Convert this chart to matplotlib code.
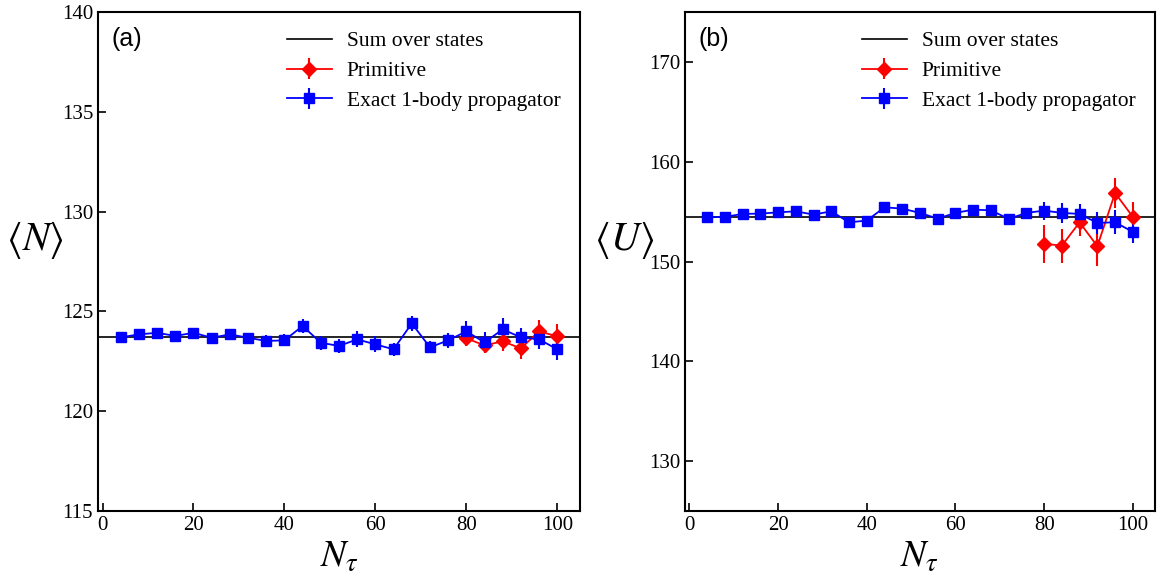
import numpy as np
import matplotlib
matplotlib.use("Agg")
import matplotlib.pyplot as plt

plt.rcParams["font.family"] = ["Liberation Serif", "DejaVu Serif"]
plt.rcParams["mathtext.fontset"] = "stix"

ntau = [4, 8, 12, 16, 20, 24, 28, 32, 36, 40, 44, 48, 52,
        56, 60, 64, 68, 72, 76, 80, 84, 88, 92, 96, 100]
ntau_prim = [80, 84, 88, 92, 96, 100]

# panel (a): <N>
n_sos = 123.72
n_exact = [123.70, 123.85, 123.93, 123.77, 123.93, 123.68, 123.85, 123.68, 123.52,
           123.55, 124.27, 123.43, 123.27, 123.60, 123.35, 123.10, 124.40, 123.20,
           123.55, 124.00, 123.45, 124.10, 123.70, 123.60, 123.10]
n_exact_err = [0.12, 0.15, 0.15, 0.15, 0.18, 0.18, 0.22, 0.2, 0.3, 0.3, 0.33, 0.35, 0.33,
               0.4, 0.4, 0.33, 0.37, 0.3, 0.37, 0.5, 0.5, 0.55, 0.45, 0.5, 0.55]
n_prim = [123.65, 123.30, 123.50, 123.15, 124.00, 123.75]
n_prim_err = [0.4, 0.37, 0.5, 0.55, 0.58, 0.6]

# panel (b): <U>
u_sos = 154.5
u_exact = [154.43, 154.47, 154.77, 154.80, 154.93, 155.03, 154.70, 155.03, 153.93,
           154.10, 155.43, 155.30, 154.87, 154.30, 154.87, 155.20, 155.13, 154.27,
           154.87, 155.10, 154.87, 154.77, 153.87, 153.93, 152.97]
u_exact_err = [0.2, 0.2, 0.25, 0.25, 0.3, 0.3, 0.3, 0.35, 0.4, 0.4, 0.5, 0.5, 0.45,
               0.5, 0.5, 0.5, 0.5, 0.5, 0.5, 0.9, 1.0, 1.0, 1.1, 1.2, 1.1]
u_prim = [151.77, 151.60, 153.93, 151.53, 156.87, 154.47]
u_prim_err = [1.9, 1.7, 1.4, 2.0, 1.5, 1.5]

fig = plt.figure(figsize=(11.58, 5.78), dpi=100)
ax1 = fig.add_axes([0.0846, 0.1159, 0.4163, 0.8633])
ax2 = fig.add_axes([0.5915, 0.1159, 0.4059, 0.8633])


def draw(ax, sos, exact, exact_err, prim, prim_err, ylim, yticks, ylabel, tag):
    ax.axhline(sos, color="black", lw=1.2, label="Sum over states")
    ax.errorbar(ntau_prim, prim, yerr=prim_err, color="red", marker="D",
                markersize=7.5, lw=1.3, elinewidth=1.5, label="Primitive")
    ax.errorbar(ntau, exact, yerr=exact_err, color="blue", marker="s",
                markersize=7, lw=1.3, elinewidth=1.5, label="Exact 1-body propagator")
    ax.set_xlim(-1, 105)
    ax.set_ylim(*ylim)
    ax.set_xticks([0, 20, 40, 60, 80, 100])
    ax.set_yticks(yticks)
    ax.tick_params(direction="in", labelsize=15, length=6, width=1.2)
    for s in ax.spines.values():
        s.set_linewidth(1.5)
    ax.set_xlabel(r"$N_\tau$", fontsize=27)
    ax.set_ylabel(ylabel, fontsize=29, rotation=0, va="center")
    ax.yaxis.set_label_coords(-0.13, 0.543)
    ax.text(0.028, 0.97, tag, transform=ax.transAxes, fontsize=18,
            family="Liberation Sans", va="top")
    ax.legend(loc="upper right", frameon=False, fontsize=15.5,
              handlelength=2.1, handletextpad=0.7, labelspacing=0.45,
              borderaxespad=0.5)


draw(ax1, n_sos, n_exact, n_exact_err, n_prim, n_prim_err, (115, 140),
     [115, 120, 125, 130, 135, 140], r"$\langle N\rangle$", "(a)")
draw(ax2, u_sos, u_exact, u_exact_err, u_prim, u_prim_err, (125, 175),
     [130, 140, 150, 160, 170], r"$\langle U\rangle$", "(b)")

fig.savefig("out.png", dpi=100)
